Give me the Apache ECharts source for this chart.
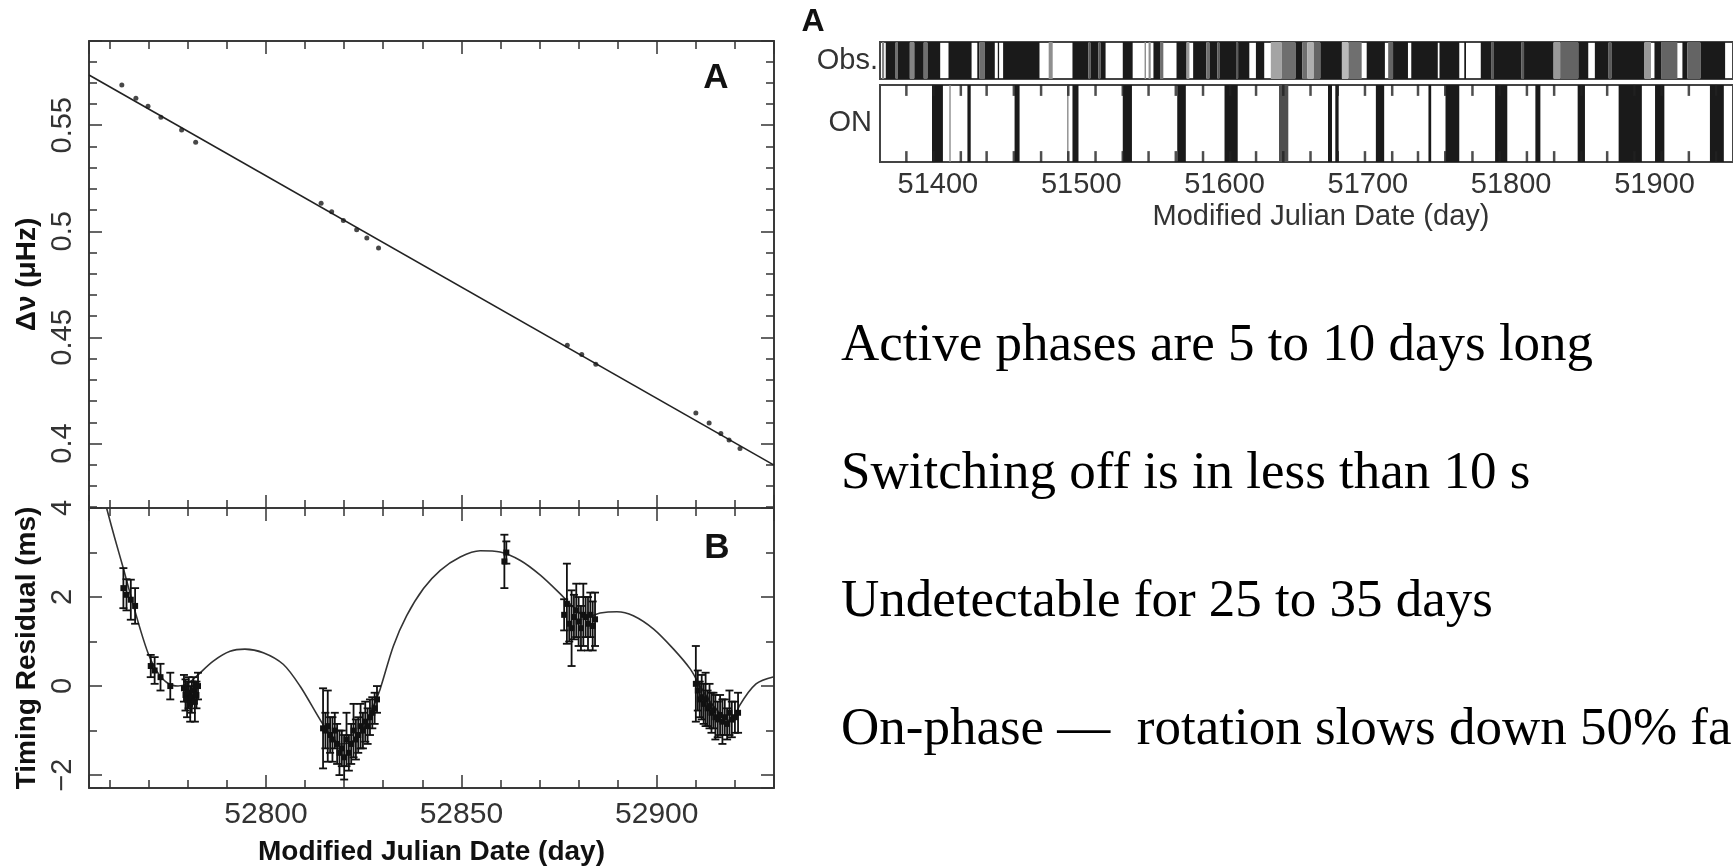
<!DOCTYPE html>
<html>
<head>
<meta charset="utf-8">
<script src="https://cdn.jsdelivr.net/npm/echarts@6/dist/echarts.min.js"></script>
<style>
  html, body { margin: 0; padding: 0; background: #fff; }
  #main { width: 1733px; height: 868px; }
</style>
</head>
<body>
<div id="main"></div>
<script>
// ---- panel A: frequency offset ----
var freqDates = [52763.1, 52766.7, 52769.8, 52773.1, 52778.4, 52782.0, 52814.1, 52816.8, 52819.8, 52823.2,
                 52825.8, 52828.8, 52877.1, 52880.8, 52884.4, 52910.0, 52913.4, 52916.4, 52918.5, 52921.3];
var freqValues = [0.569, 0.5627, 0.559, 0.5538, 0.5478, 0.542, 0.5132, 0.5092, 0.5051, 0.5007,
                  0.4968, 0.4921, 0.4463, 0.442, 0.4373, 0.4144, 0.4097, 0.4047, 0.4016, 0.3976];
var freqFitDates = [52754.7, 52930];
var freqFitValues = [0.5737, 0.3898];

// ---- panel B: timing residuals ----
var resDates = [52763.5, 52764.3, 52765.4, 52766.5,
                52770.5, 52771.5, 52773.0, 52775.5,
                52779.0, 52779.4, 52779.8, 52780.2, 52780.6, 52781.0, 52781.4, 52781.8, 52782.2, 52782.6,
                52814.6, 52815.2, 52815.8, 52816.4, 52817.0, 52817.6, 52818.2, 52818.8, 52819.4, 52820.0,
                52820.6, 52821.2, 52821.8, 52822.4, 52823.0, 52823.6, 52824.2, 52824.8, 52825.4, 52826.0,
                52826.6, 52827.2, 52827.8, 52828.4,
                52861.0, 52861.5,
                52876.3, 52877.0, 52877.6, 52878.2, 52878.8, 52879.4, 52880.0, 52880.6, 52881.2, 52881.8,
                52882.4, 52883.0, 52883.6, 52884.2,
                52910.0, 52910.5, 52911.0, 52911.5, 52912.0, 52912.5, 52913.0, 52913.5, 52914.0, 52914.5,
                52915.0, 52915.6, 52916.2, 52916.8, 52917.4, 52918.0, 52918.6, 52919.2, 52920.0, 52920.8];
var resValues = [2.2, 2.05, 1.94, 1.8,
                 0.45, 0.35, 0.2, 0.0,
                 -0.05, -0.2, -0.3, -0.15, -0.4, -0.25, -0.1, -0.35, -0.2, 0.0,
                 -0.95, -1.0, -0.9, -1.1, -1.2, -1.0, -1.3, -1.5, -1.4, -1.6,
                 -1.2, -1.5, -1.3, -1.0, -1.2, -1.1, -0.9, -1.0, -0.8, -0.9,
                 -0.7, -0.6, -0.5, -0.3,
                 2.8, 3.0,
                 1.6, 1.85, 1.4, 1.3, 1.55, 1.7, 1.45, 1.3, 1.6, 1.55,
                 1.4, 1.6, 1.35, 1.5,
                 0.05, -0.1, -0.3, -0.25, -0.4, -0.3, -0.5, -0.45, -0.6, -0.55,
                 -0.7, -0.75, -0.65, -0.8, -0.7, -0.85, -0.6, -0.75, -0.7, -0.6];
var resErrors = [0.45, 0.35, 0.45, 0.4,
                 0.25, 0.3, 0.3, 0.3,
                 0.3, 0.35, 0.4, 0.35, 0.4, 0.35, 0.3, 0.45, 0.3, 0.3,
                 0.9, 0.4, 0.8, 0.4, 0.5, 0.4, 0.45, 0.5, 0.4, 0.5,
                 0.6, 0.4, 0.45, 0.6, 0.45, 0.4, 0.5, 0.4, 0.45, 0.4,
                 0.4, 0.35, 0.35, 0.3,
                 0.6, 0.25,
                 0.35, 0.9, 0.4, 0.85, 0.5, 0.6, 0.55, 0.5, 0.7, 0.45,
                 0.6, 0.5, 0.55, 0.6,
                 0.85, 0.45, 0.4, 0.5, 0.45, 0.6, 0.4, 0.5, 0.45, 0.4,
                 0.5, 0.4, 0.45, 0.5, 0.4, 0.35, 0.5, 0.4, 0.35, 0.45];
var modelDates = [52759.2, 52761.3, 52763.5, 52765.6, 52767.8, 52769.9, 52772.0, 52774.6, 52777.5, 52780.0,
                  52782.3, 52786.5, 52790.8, 52794.6, 52799.3, 52804.4, 52808.7, 52813.8, 52816.5, 52819.0,
                  52822.0, 52825.0, 52827.5, 52829.2, 52832.6, 52836.0, 52840.3, 52844.6, 52849.7, 52854.8,
                  52859.9, 52865.1, 52870.2, 52875.3, 52878.7, 52882.1, 52885.5, 52889.8, 52894.0, 52899.2,
                  52904.3, 52908.6, 52911.1, 52914.5, 52917.9, 52919.6, 52921.1, 52925.4, 52930.0];
var modelValues = [4.0, 3.32, 2.64, 1.96, 1.28, 0.72, 0.34, 0.08, 0.0, 0.06,
                   0.23, 0.56, 0.78, 0.83, 0.75, 0.49, 0.0, -0.75, -1.1, -1.3,
                   -1.25, -0.95, -0.45, -0.07, 0.9, 1.58, 2.19, 2.6, 2.9, 3.04,
                   3.01, 2.82, 2.49, 2.07, 1.77, 1.55, 1.64, 1.67, 1.58, 1.28,
                   0.83, 0.38, 0.0, -0.45, -0.75, -0.8, -0.45, 0.05, 0.21];

// ---- top right strips: [start MJD, end MJD, darkness] ----
var obsSpans = [
  [51361.0, 51362.5, 0.5], [51363.6, 51370.5, 1], [51370.5, 51372.1, 0.6], [51372.1, 51380.4, 1],
  [51380.4, 51383.6, 0.5], [51383.6, 51390.1, 1], [51390.1, 51392.8, 0.6], [51392.8, 51401.6, 1],
  [51407.4, 51423.5, 1], [51427.5, 51428.9, 1], [51428.9, 51432.8, 0.6], [51432.8, 51439.7, 1],
  [51441.8, 51442.7, 1], [51445.5, 51470.9, 1], [51477.3, 51480.1, 0.45], [51493.9, 51505.0, 1],
  [51505.0, 51506.5, 0.7], [51506.5, 51512.0, 1], [51512.0, 51513.5, 0.7], [51513.5, 51517.0, 1],
  [51529.0, 51535.9, 1], [51544.2, 51545.2, 0.45], [51547.0, 51548.5, 0.45], [51550.4, 51555.0, 1],
  [51555.0, 51557.3, 0.6], [51566.5, 51573.5, 1], [51573.5, 51575.5, 0.4], [51578.1, 51587.3, 1],
  [51587.3, 51589.6, 0.6], [51589.6, 51595.0, 1], [51595.0, 51596.5, 0.7], [51596.5, 51608.0, 1],
  [51608.0, 51609.5, 0.7], [51609.5, 51617.3, 1], [51621.9, 51627.7, 1], [51632.3, 51640.0, 0.35],
  [51640.0, 51649.6, 0.6], [51649.6, 51654.2, 1], [51654.2, 51657.7, 0.6], [51657.7, 51662.3, 0.3],
  [51662.3, 51666.9, 0.65], [51666.9, 51681.9, 1], [51681.9, 51686.5, 0.25], [51686.5, 51695.7, 0.6],
  [51699.2, 51711.9, 1], [51714.2, 51717.6, 0.65], [51717.6, 51728.0, 1], [51730.3, 51748.8, 1],
  [51750.0, 51763.8, 1], [51767.3, 51768.5, 1], [51778.8, 51786.0, 1], [51786.0, 51788.0, 0.7],
  [51788.0, 51807.0, 1], [51807.0, 51809.0, 0.7], [51809.0, 51829.6, 1], [51829.6, 51834.2, 0.4],
  [51834.2, 51846.9, 0.65], [51846.9, 51853.8, 1], [51858.4, 51868.0, 1], [51868.0, 51870.0, 0.7],
  [51870.0, 51893.0, 1], [51893.0, 51897.6, 0.4], [51900.0, 51904.6, 1], [51904.6, 51916.0, 0.65],
  [51919.5, 51923.0, 1], [51923.0, 51932.2, 0.65], [51932.2, 51949.3, 1]
];
var onSpans = [
  [51395.9, 51403.5, 1], [51408.0, 51408.8, 0.5], [51420.6, 51422.9, 1], [51453.5, 51457.0, 1],
  [51490.2, 51491.0, 0.5], [51493.9, 51498.1, 1], [51529.0, 51535.4, 1], [51567.0, 51573.0, 1],
  [51600.0, 51609.2, 1], [51638.0, 51644.5, 0.75], [51672.2, 51675.0, 1], [51677.3, 51679.6, 1],
  [51705.6, 51711.4, 1], [51742.3, 51744.2, 1], [51754.2, 51763.8, 1], [51788.8, 51797.3, 1],
  [51816.9, 51820.4, 1], [51846.4, 51851.5, 1], [51875.0, 51891.2, 1], [51900.4, 51906.9, 1],
  [51938.7, 51948.4, 1]
];
var stripLabelValues = [51400, 51500, 51600, 51700, 51800, 51900];
var onTickDates = [51378, 51397, 51416, 51434, 51453, 51472, 51491, 51510, 51529, 51547, 51566,
                   51585, 51604, 51622, 51641, 51660, 51679, 51698, 51717, 51735, 51754, 51773,
                   51792, 51811, 51830, 51849, 51867, 51886, 51905, 51924, 51943];

var notes = [
  'Active phases are 5 to 10 days long',
  'Switching off is in less than 10 s',
  'Undetectable for 25 to 35 days',
  'On-phase \u2014  rotation slows down 50% faster'
];

var sans = 'Liberation Sans, Arial, sans-serif';
var frameLine = { color: '#3a3a3a', width: 2 };
var tickLine = { color: '#333', width: 1.5 };

function frameAxis(gridIndex, position, min, max, splitNumber, minorSplit) {
  return {
    type: 'value', gridIndex: gridIndex, position: position,
    min: min, max: max, splitNumber: splitNumber,
    axisLine: { show: true, onZero: false, lineStyle: frameLine },
    axisTick: { show: true, inside: true, length: 13, lineStyle: tickLine },
    minorTick: { show: true, splitNumber: minorSplit, length: 8, lineStyle: tickLine },
    axisLabel: { show: false },
    splitLine: { show: false }
  };
}

function plainNumber(v) {
  return String(v).replace('-', '\u2212');
}

function renderErrorBar(params, api) {
  var x = api.value(0), y = api.value(1), e = api.value(2);
  var top = api.coord([x, y + e]);
  var bot = api.coord([x, y - e]);
  var mid = api.coord([x, y]);
  var cap = 4;
  var st = { stroke: '#111', lineWidth: 1.8 };
  return {
    type: 'group',
    children: [
      { type: 'line', shape: { x1: top[0], y1: top[1], x2: bot[0], y2: bot[1] }, style: st },
      { type: 'line', shape: { x1: top[0] - cap, y1: top[1], x2: top[0] + cap, y2: top[1] }, style: st },
      { type: 'line', shape: { x1: bot[0] - cap, y1: bot[1], x2: bot[0] + cap, y2: bot[1] }, style: st },
      { type: 'rect', shape: { x: mid[0] - 3, y: mid[1] - 3, width: 6, height: 6 }, style: { fill: '#111' } }
    ]
  };
}

function renderSpan(params, api) {
  var a = api.coord([api.value(0), 1]);
  var b = api.coord([api.value(1), 0]);
  var g = Math.round(238 - api.value(2) * 212);
  return {
    type: 'rect',
    shape: { x: a[0], y: a[1], width: Math.max(b[0] - a[0], 1.3), height: b[1] - a[1] },
    style: { fill: 'rgb(' + g + ',' + g + ',' + g + ')' }
  };
}

var xMinL = 52754.7, xMaxL = 52930;
var xMinR = 51359.6, xMaxR = 51954.8;

var xA = frameAxis(0, 'bottom', xMinL, xMaxL, 4, 5);
var xAtop = frameAxis(0, 'top', xMinL, xMaxL, 4, 5);
var xB = frameAxis(1, 'bottom', xMinL, xMaxL, 4, 5);
xB.axisLabel = { show: true, formatter: plainNumber, showMinLabel: false, showMaxLabel: false,
                 margin: 12, color: '#333', fontSize: 30, fontFamily: sans };
xB.name = 'Modified Julian Date (day)';
xB.nameLocation = 'middle';
xB.nameGap = 50;
xB.nameTextStyle = { fontSize: 28, fontWeight: 'bold', color: '#111', fontFamily: sans };
var xBtop = frameAxis(1, 'top', xMinL, xMaxL, 4, 5);

var yA = frameAxis(0, 'left', 0.3696, 0.5897, 4, 5);
yA.axisLabel = { show: true, rotate: 90, showMinLabel: false, showMaxLabel: false,
                 margin: 12, color: '#333', fontSize: 29, fontFamily: sans };
yA.name = '\u0394\u03bd (\u03bcHz)';
yA.nameLocation = 'middle';
yA.nameRotate = 90;
yA.nameGap = 48;
yA.nameTextStyle = { fontSize: 28, fontWeight: 'bold', color: '#111', fontFamily: sans };
var yAright = frameAxis(0, 'right', 0.3696, 0.5897, 4, 5);

var yB = frameAxis(1, 'left', -2.29, 4, 3, 2);
yB.axisLabel = { show: true, rotate: 90, formatter: plainNumber, showMinLabel: false, showMaxLabel: true,
                 margin: 12, color: '#333', fontSize: 29, fontFamily: sans };
yB.name = 'Timing Residual (ms)';
yB.nameLocation = 'middle';
yB.nameRotate = 90;
yB.nameGap = 48;
yB.nameTextStyle = { fontSize: 28, fontWeight: 'bold', color: '#111', fontFamily: sans };
var yBright = frameAxis(1, 'right', -2.29, 4, 3, 2);

var stripAxisLine = { show: true, onZero: false, lineStyle: { color: '#444', width: 2 } };

var option = {
  animation: false,
  backgroundColor: '#fff',
  grid: [
    { left: 89, top: 41, width: 685, height: 467 },
    { left: 89, top: 508, width: 685, height: 280 },
    { left: 880, top: 42, width: 860, height: 37, show: true, borderColor: '#444', borderWidth: 2 },
    { left: 880, top: 85, width: 860, height: 77, show: true, borderColor: '#444', borderWidth: 2 },
    // overlay on the ON strip, used only for its small edge marks
    { left: 880, top: 85, width: 860, height: 77 }
  ],
  xAxis: [
    xA, xAtop, xB, xBtop,
    { type: 'value', gridIndex: 2, min: xMinR, max: xMaxR, show: false },
    {
      type: 'value', gridIndex: 3, position: 'bottom', min: xMinR, max: xMaxR,
      axisLine: stripAxisLine,
      axisTick: { show: false },
      axisLabel: { show: true, customValues: stripLabelValues, formatter: plainNumber, margin: 8,
                   color: '#333', fontSize: 29, fontFamily: sans },
      splitLine: { show: false }
    },
    {
      type: 'value', gridIndex: 3, position: 'top', min: xMinR, max: xMaxR,
      axisLine: stripAxisLine,
      axisTick: { show: false },
      axisLabel: { show: false },
      splitLine: { show: false }
    },
    { type: 'value', gridIndex: 4, min: xMinR, max: xMaxR, show: false }
  ],
  yAxis: [
    yA, yAright, yB, yBright,
    { type: 'value', gridIndex: 2, min: 0, max: 1, show: false },
    { type: 'value', gridIndex: 3, min: 0, max: 1, show: false },
    { type: 'value', gridIndex: 4, min: 0, max: 1, show: false }
  ],
  series: [
    {
      type: 'line', xAxisIndex: 0, yAxisIndex: 0,
      data: freqFitDates.map(function (d, i) { return [d, freqFitValues[i]]; }),
      showSymbol: false, lineStyle: { color: '#222', width: 1.6 }, z: 3
    },
    {
      type: 'scatter', xAxisIndex: 0, yAxisIndex: 0,
      data: freqDates.map(function (d, i) { return [d, freqValues[i]]; }),
      symbol: 'circle', symbolSize: 5, itemStyle: { color: '#1a1a1a' }, z: 4
    },
    {
      type: 'line', xAxisIndex: 2, yAxisIndex: 2,
      data: modelDates.map(function (d, i) { return [d, modelValues[i]]; }),
      showSymbol: false, smooth: 0.3, clip: true,
      lineStyle: { color: '#333', width: 1.6 }, z: 3
    },
    {
      type: 'custom', xAxisIndex: 2, yAxisIndex: 2, clip: true,
      data: resDates.map(function (d, i) { return [d, resValues[i], resErrors[i]]; }),
      renderItem: renderErrorBar, encode: { x: 0, y: 1 }, z: 4
    },
    {
      type: 'custom', xAxisIndex: 4, yAxisIndex: 4, clip: true,
      data: obsSpans, renderItem: renderSpan, encode: { x: [0, 1] }
    },
    {
      type: 'custom', xAxisIndex: 5, yAxisIndex: 5, clip: true,
      data: onSpans, renderItem: renderSpan, encode: { x: [0, 1] }
    },
    // small marks hanging from the top edge and standing on the bottom edge
    {
      type: 'scatter', xAxisIndex: 7, yAxisIndex: 6,
      data: onTickDates.map(function (d) { return [d, 0.93]; }),
      symbol: 'rect', symbolSize: [2.5, 11], itemStyle: { color: '#222' }, z: 8
    },
    {
      type: 'scatter', xAxisIndex: 7, yAxisIndex: 6,
      data: onTickDates.map(function (d) { return [d, 0.07]; }),
      symbol: 'rect', symbolSize: [2.5, 11], itemStyle: { color: '#222' }, z: 8
    }
  ],
  graphic: [
    { type: 'text', x: 716, y: 78, style: { text: 'A', font: 'bold 35px ' + sans, fill: '#111', align: 'center', verticalAlign: 'middle' } },
    { type: 'text', x: 717, y: 548, style: { text: 'B', font: 'bold 35px ' + sans, fill: '#111', align: 'center', verticalAlign: 'middle' } },
    { type: 'text', x: 813, y: 22, style: { text: 'A', font: 'bold 32px ' + sans, fill: '#111', align: 'center', verticalAlign: 'middle' } },
    { type: 'text', x: 878, y: 61, style: { text: 'Obs.', font: '29px ' + sans, fill: '#333', align: 'right', verticalAlign: 'middle' } },
    { type: 'text', x: 872, y: 123, style: { text: 'ON', font: '29px ' + sans, fill: '#333', align: 'right', verticalAlign: 'middle' } },
    { type: 'text', x: 1321, y: 217, style: { text: 'Modified Julian Date (day)', font: '29px ' + sans, fill: '#333', align: 'center', verticalAlign: 'middle' } }
  ].concat(notes.map(function (t, i) {
    return { type: 'text', x: 841, y: 346 + i * 128,
             style: { text: t, font: '53px "Liberation Serif", "Times New Roman", serif', fill: '#000', align: 'left', verticalAlign: 'middle' } };
  }))
};

var myChart = echarts.init(document.getElementById('main'));
myChart.setOption(option);
</script>
</body>
</html>
